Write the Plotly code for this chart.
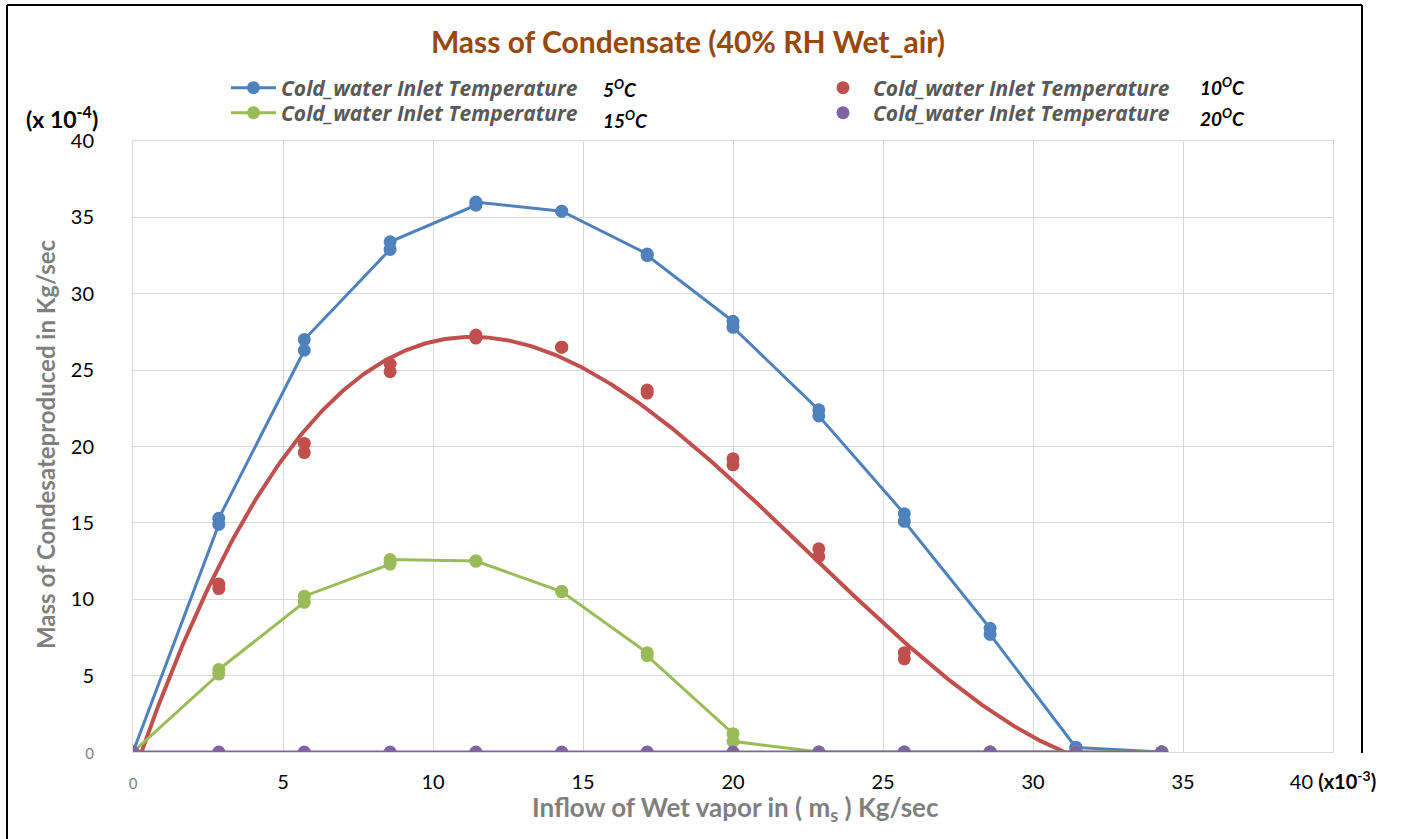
import numpy as np
import plotly.graph_objects as go

# Inflow of wet vapour (x10^-3 kg/s)
inflow = [0, 2.86, 5.71, 8.57, 11.43, 14.29, 17.14, 20.0, 22.86, 25.71, 28.57, 31.43, 34.29]

# Condensate produced (x10^-4 kg/s); two readings for each inflow value
cw5_first = [0, 14.9, 26.3, 32.9, 35.8, 35.4, 32.6, 28.2, 22.4, 15.6, 8.1, 0.3, 0]
cw5_second = [0, 15.3, 27.0, 33.4, 36.0, 35.4, 32.5, 27.8, 22.0, 15.1, 7.7, 0.3, 0]
cw10_first = [0, 11.0, 20.2, 25.4, 27.3, 26.5, 23.7, 19.2, 13.3, 6.5, 0, 0, 0]
cw10_second = [0, 10.7, 19.6, 24.9, 27.1, 26.5, 23.5, 18.8, 12.8, 6.1, 0, 0, 0]
cw15_first = [0, 5.1, 9.8, 12.3, 12.5, 10.5, 6.5, 1.2, 0, 0, 0, 0, 0]
cw15_second = [0, 5.4, 10.2, 12.6, 12.5, 10.5, 6.3, 0.7, 0, 0, 0, 0, 0]
cw20 = [0, 0, 0, 0, 0, 0, 0, 0, 0, 0, 0, 0, 0]

temps = ["5", "10", "15", "20"]
x_ticks = [0, 5, 10, 15, 20, 25, 30, 35, 40]
y_ticks = [0, 5, 10, 15, 20, 25, 30, 35, 40]

series_name = "Cold_water Inlet Temperature"
BLUE, RED, GREEN, PURPLE = "#4F81BD", "#C0504D", "#9BBB59", "#8064A2"
FONT = "Lato"
MS = 13


def paired(first, second):
    xs, ys = [], []
    for x, a, b in zip(inflow, first, second):
        xs += [x, x]
        ys += [a, b]
    return xs, ys


x5, y5 = paired(cw5_first, cw5_second)
x10, y10 = paired(cw10_first, cw10_second)
x15, y15 = paired(cw15_first, cw15_second)

# third-order polynomial trend line through the 10 °C readings
coef = np.polyfit(x10, y10, 3)
trend_x = np.linspace(0, max(inflow), 400)
trend_y = np.polyval(coef, trend_x)

fig = go.Figure()
fig.add_trace(go.Scatter(x=x5, y=y5, mode="lines+markers", name=series_name,
                         line=dict(color=BLUE, width=3), marker=dict(color=BLUE, size=MS),
                         legend="legend"))
fig.add_trace(go.Scatter(x=trend_x, y=trend_y, mode="lines", showlegend=False,
                         line=dict(color=RED, width=4), hoverinfo="skip"))
fig.add_trace(go.Scatter(x=x10, y=y10, mode="markers", name=series_name,
                         marker=dict(color=RED, size=MS), legend="legend2"))
fig.add_trace(go.Scatter(x=x15, y=y15, mode="lines+markers", name=series_name,
                         line=dict(color=GREEN, width=3), marker=dict(color=GREEN, size=MS),
                         legend="legend3"))
fig.add_trace(go.Scatter(x=inflow, y=cw20, mode="lines", showlegend=False,
                         line=dict(color=PURPLE, width=3), hoverinfo="skip"))
fig.add_trace(go.Scatter(x=inflow, y=cw20, mode="markers", name=series_name,
                         marker=dict(color=PURPLE, size=MS), legend="legend4"))

L, R, T, B = 133, 68, 141, 87
W, H = 1401, 839
PW, PH = W - L - R, H - T - B


def px(xp):
    return (xp - L) / PW


def py(yp):
    return (H - B - yp) / PH


zero_lbl = '<span style="font-size:15px;color:#7f7f7f">0</span>'
x_text = [zero_lbl if v == 0 else str(v) for v in x_ticks]
x_text[-1] = "40 <b>(x10<sup>-3</sup>)</b>"
y_text = [zero_lbl if v == 0 else str(v) for v in y_ticks]

legend_font = dict(family="Open Sans", size=21, color="#595959", style="italic", weight="bold")


def legend_box(x_left, y_mid, item_w):
    return dict(x=px(x_left), y=py(y_mid), xanchor="left", yanchor="middle",
                font=legend_font, itemwidth=item_w, bgcolor="rgba(0,0,0,0)",
                tracegroupgap=0, orientation="v")


fig.update_layout(
    width=W, height=H,
    margin=dict(l=L, r=R, t=T, b=B),
    paper_bgcolor="white", plot_bgcolor="white",
    font=dict(family=FONT, color="black"),
    title=dict(text="<b>Mass of Condensate (40% RH Wet_air)</b>",
               font=dict(family=FONT, size=30, color="#984807"),
               x=688 / W, xanchor="center", y=1 - 42 / H, yanchor="middle"),
    xaxis=dict(range=[0, 40], tickvals=x_ticks, ticktext=x_text, showgrid=True,
               gridcolor="#d9d9d9", gridwidth=1, zeroline=False, showline=True,
               linecolor="#d9d9d9", mirror=True, ticks="", ticklabelstandoff=12,
               tickfont=dict(family=FONT, size=20, color="black")),
    yaxis=dict(range=[0, 40], tickvals=y_ticks, ticktext=y_text, showgrid=True,
               gridcolor="#d9d9d9", gridwidth=1, zeroline=False, showline=True,
               linecolor="#d9d9d9", mirror=True, ticks="", ticklabelstandoff=34,
               tickfont=dict(family=FONT, size=20, color="black")),
    legend=legend_box(226, 88, 45),
    legend3=legend_box(226, 113, 45),
    legend2=legend_box(813, 88, 50),
    legend4=legend_box(813, 113, 50),
    showlegend=True,
)

temp_pos = {"5": (620, 88), "10": (1222, 86), "15": (625, 120), "20": (1222, 118)}
for t in temps:
    xp, yp = temp_pos[t]
    fig.add_annotation(text=f"<b><i>{t}<sup>O</sup>C</i></b>", x=px(xp), y=py(yp),
                       xref="paper", yref="paper", xanchor="center", yanchor="middle",
                       showarrow=False, font=dict(family=FONT, size=19, color="black"))

fig.add_annotation(text="<b>(x 10<sup>-4</sup>)</b>", x=px(62), y=py(118),
                   xref="paper", yref="paper", xanchor="center", yanchor="middle",
                   showarrow=False, font=dict(family=FONT, size=23, color="black"))
fig.add_annotation(text="<b>Mass of Condesateproduced in Kg/sec</b>", x=px(45), y=py(444),
                   xref="paper", yref="paper", xanchor="center", yanchor="middle",
                   showarrow=False, textangle=-90,
                   font=dict(family=FONT, size=24, color="#7f7f7f"))
fig.add_annotation(text="<b>Inflow of Wet vapor in ( m<sub>s</sub> ) Kg/sec</b>",
                   x=px(735), y=py(808), xref="paper", yref="paper",
                   xanchor="center", yanchor="middle", showarrow=False,
                   font=dict(family=FONT, size=26, color="#7f7f7f"))

# outer chart frame
frame = dict(color="black", width=2)
fig.add_shape(type="line", xref="paper", yref="paper", x0=px(7), x1=px(7), y0=py(5), y1=py(839), line=frame)
fig.add_shape(type="line", xref="paper", yref="paper", x0=px(7), x1=px(1362), y0=py(5), y1=py(5), line=frame)
fig.add_shape(type="line", xref="paper", yref="paper", x0=px(1362), x1=px(1362), y0=py(5), y1=py(753), line=frame)

fig.write_html("out.html")
